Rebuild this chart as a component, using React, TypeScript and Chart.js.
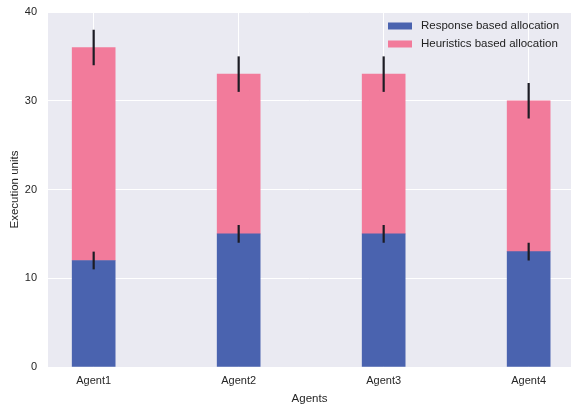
import React, { useEffect, useRef } from "react";
import { Chart, registerables } from "chart.js";

Chart.register(...registerables);

const categories = ["Agent1", "Agent2", "Agent3", "Agent4"];
const responseValues = [12, 15, 15, 13];
const heuristicsValues = [24, 18, 18, 17];
const responseErr = [1, 1, 1, 1];
const totalErr = [2, 2, 2, 2];
const yTicks = [0, 10, 20, 30, 40];

const FONT = "'Liberation Sans', Arial, sans-serif";

export default function App() {
  const ref = useRef<HTMLCanvasElement | null>(null);

  useEffect(() => {
    const canvas = ref.current;
    if (!canvas) return;

    const bgPlugin = {
      id: "bg",
      beforeDraw(chart: any) {
        const { ctx, chartArea } = chart;
        ctx.save();
        ctx.fillStyle = "#EAEAF2";
        ctx.fillRect(chartArea.left, chartArea.top, chartArea.right - chartArea.left, chartArea.bottom - chartArea.top);
        ctx.restore();
      },
    };

    const errPlugin = {
      id: "err",
      afterDatasetsDraw(chart: any) {
        const { ctx } = chart;
        const xs = chart.scales.x;
        const ys = chart.scales.y;
        ctx.save();
        ctx.strokeStyle = "#1c1c24";
        ctx.lineWidth = 2.2;
        categories.forEach((_, i) => {
          const px = xs.getPixelForValue(i);
          const t1 = responseValues[i];
          const t2 = responseValues[i] + heuristicsValues[i];
          [[t1, responseErr[i]], [t2, totalErr[i]]].forEach(([v, e]) => {
            ctx.beginPath();
            ctx.moveTo(px, ys.getPixelForValue(v - e));
            ctx.lineTo(px, ys.getPixelForValue(v + e));
            ctx.stroke();
          });
        });
        ctx.restore();
      },
    };

    const legendPlugin = {
      id: "customLegend",
      afterDraw(chart: any) {
        const { ctx, chartArea } = chart;
        ctx.save();
        ctx.font = `11.5px ${FONT}`;
        ctx.textBaseline = "middle";
        ctx.textAlign = "left";
        chart.data.datasets.forEach((ds: any, i: number) => {
          const y = chartArea.top + 14 + i * 18;
          ctx.fillStyle = ds.backgroundColor;
          ctx.fillRect(388, y - 3.5, 24, 7);
          ctx.fillStyle = "#222";
          ctx.fillText(ds.label, 421, y);
        });
        ctx.restore();
      },
    };

    const chart = new Chart(canvas, {
      type: "bar",
      data: {
        datasets: [
          {
            label: "Response based allocation",
            data: categories.map((_, i) => ({ x: i, y: responseValues[i] })),
            backgroundColor: "#4A63AF",
            barThickness: 43,
          },
          {
            label: "Heuristics based allocation",
            data: categories.map((_, i) => ({ x: i, y: heuristicsValues[i] })),
            backgroundColor: "#F27B9B",
            barThickness: 43,
          },
        ],
      },
      options: {
        responsive: false,
        animation: false,
        layout: { padding: { left: 0, right: 0, top: 12, bottom: 0 } },
        plugins: {
          legend: { display: false },
          tooltip: { enabled: false },
        },
        scales: {
          x: {
            type: "linear",
            stacked: true,
            offset: false,
            min: -0.315,
            max: 3.292,
            afterBuildTicks(scale: any) {
              scale.ticks = categories.map((_, i) => ({ value: i }));
            },
            afterFit(scale: any) {
              scale.height = 39;
              scale.paddingLeft = 0;
              scale.paddingRight = 0;
            },
            ticks: {
              callback: (v: any) => categories[v as number] ?? "",
              color: "#262626",
              font: { family: FONT, size: 11 },
              padding: 7,
              maxRotation: 0,
              autoSkip: false,
            },
            grid: { color: "#FFFFFF", lineWidth: 1, drawTicks: false, offset: false },
            border: { display: false },
            title: {
              display: true,
              text: "Agents",
              color: "#262626",
              font: { family: FONT, size: 11.5 },
              padding: { top: 2, bottom: 0 },
            },
          },
          y: {
            stacked: true,
            min: 0,
            max: 40,
            afterBuildTicks(scale: any) {
              scale.ticks = yTicks.map((v) => ({ value: v }));
            },
            afterFit(scale: any) {
              scale.width = 48;
              scale.paddingTop = 0;
              scale.paddingBottom = 0;
            },
            ticks: {
              color: "#262626",
              font: { family: FONT, size: 11 },
              padding: 11,
            },
            grid: { color: "#FFFFFF", lineWidth: 1, drawTicks: false },
            border: { display: false },
            title: {
              display: true,
              text: "Execution units",
              color: "#262626",
              font: { family: FONT, size: 11.5 },
              padding: { top: 8, bottom: 0 },
            },
          },
        },
      },
      plugins: [bgPlugin, errPlugin, legendPlugin],
    } as any);

    return () => chart.destroy();
  }, []);

  return (
    <div style={{ position: "absolute", left: 0, top: 0, width: 571, height: 406, background: "#fff" }}>
      <canvas ref={ref} width={571} height={406} style={{ display: "block", width: 571, height: 406 }} />
    </div>
  );
}
